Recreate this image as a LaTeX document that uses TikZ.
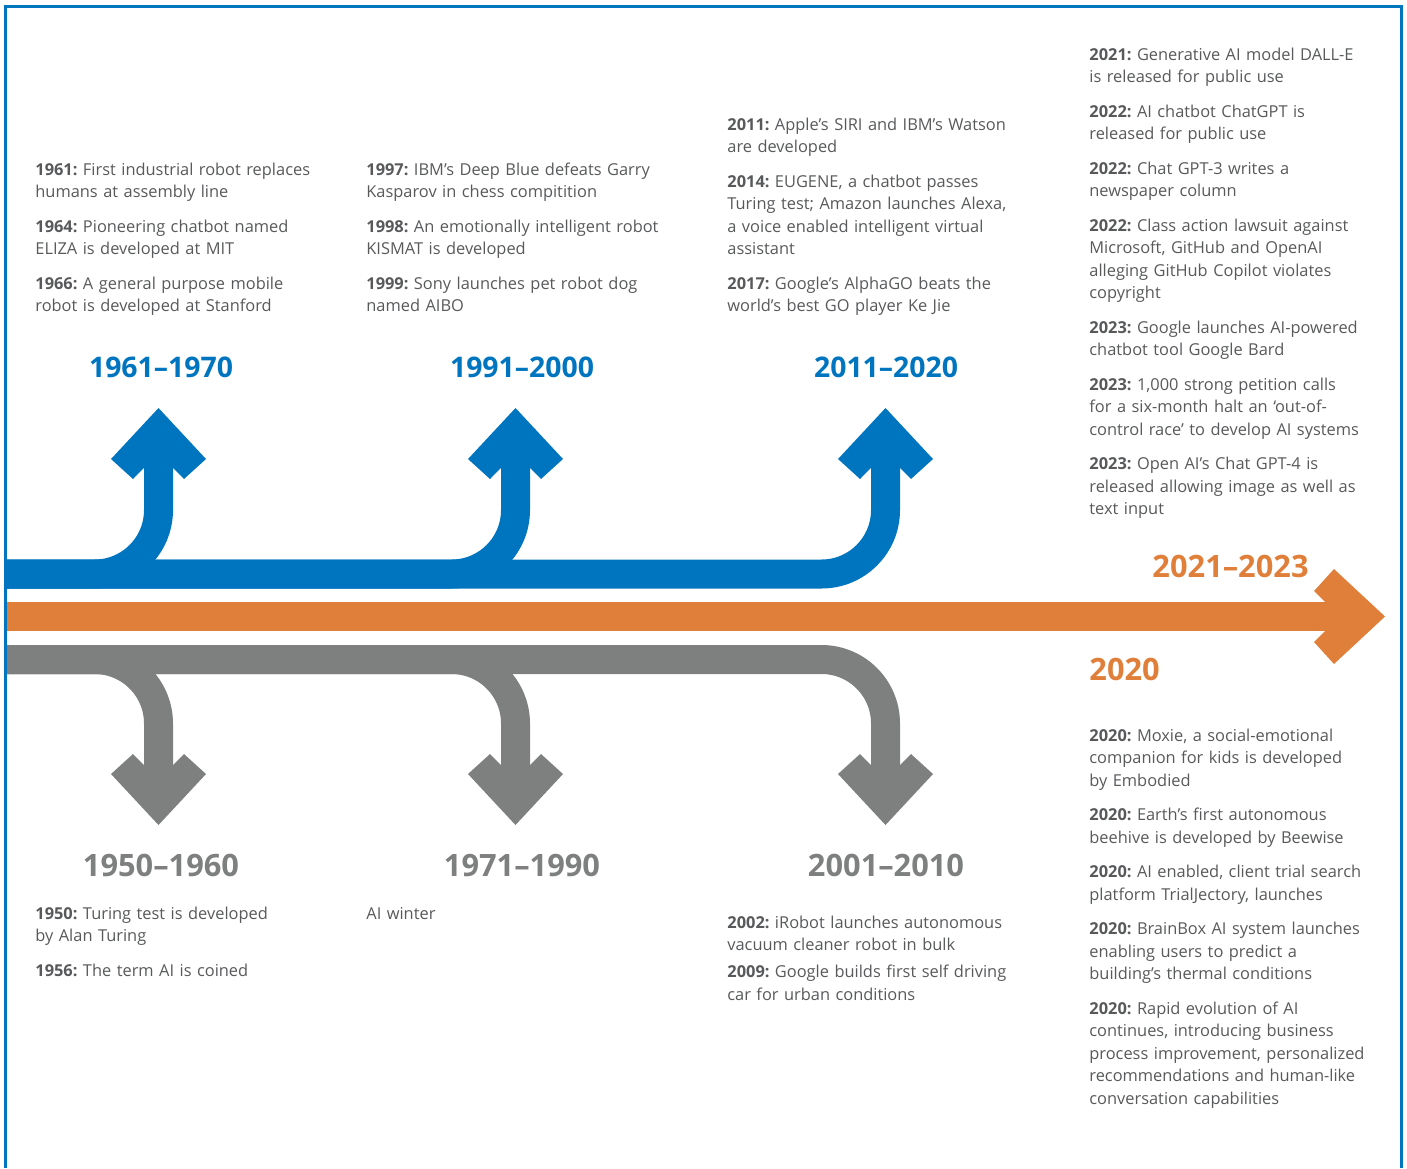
\documentclass[tikz,border=0pt]{standalone}
\usepackage{fontspec}
\setmainfont{Open Sans}
\usepackage{tikz}
\definecolor{aiblue}{HTML}{0075BF}
\definecolor{aiorange}{HTML}{E07F3A}
\definecolor{aigray}{HTML}{7D807E}
\definecolor{aitext}{HTML}{58595B}
\newcommand{\yr}[1]{\textbf{#1:}}
\frenchspacing

\begin{document}
\begin{tikzpicture}[x=0.5pt, y=-0.5pt,
    band/.style={line width=14.5pt, rounded corners=32pt},
    era/.style={font=\fontsize{14.2pt}{16pt}\selectfont\bfseries, inner sep=0pt},
    wide era/.style={era, font=\fontsize{15.4pt}{17pt}\selectfont\bfseries},
    events/.style={anchor=base west, inner sep=0pt, text width=175pt, align=left,
        text=aitext, font=\fontsize{8.2pt}{11.25pt}\selectfont},
    headup/.pic={\fill (0,0) -- (47.5,51) -- (25.5,71) -- (0,45) -- (-25.5,71) -- (-47.5,51) -- cycle;}]
    \useasboundingbox (0,0) rectangle (1407,1168);

    % bands
    \draw[band, aiblue] (5,574) -| (158.5,448);
    \draw[band, aiblue] (5,574) -| (515.5,448);
    \draw[band, aiblue] (5,574) -| (885.5,448);
    \draw[band, aigray] (5,659.5) -| (158.5,785);
    \draw[band, aigray] (5,659.5) -| (515.5,785);
    \draw[band, aigray] (5,659.5) -| (885.5,785);
    \draw[band, aiorange] (5,616.5) -- (1345,616.5);

    % heads
    \pic[aiblue] at (158.5,408) {headup};
    \pic[aiblue] at (515.5,408) {headup};
    \pic[aiblue] at (885.5,408) {headup};
    \pic[aigray, yscale=-1] at (158.5,825) {headup};
    \pic[aigray, yscale=-1] at (515.5,825) {headup};
    \pic[aigray, yscale=-1] at (885.5,825) {headup};
    \pic[aiorange, rotate=-90] at (1385,616.5) {headup};

    \draw[aiblue, line width=1.5pt] (5,1168) -- (5,6.5) -- (1401,6.5) -- (1401,1168);

    % eras
    \node[era, aiblue] (h6170) at (161,367.5) {1961–1970};
    \node[era, aiblue] (h9100) at (522,367.5) {1991–2000};
    \node[era, aiblue] (h1120) at (886,367.5) {2011–2020};
    \node[wide era, aiorange] (h2123) at (1230.5,566.5) {2021–2023};
    \node[wide era, aiorange, anchor=west] (h2020) at (1089,669) {2020};
    \node[wide era, aigray] (h5060) at (161,865) {1950–1960};
    \node[wide era, aigray] (h7190) at (522,865) {1971–1990};
    \node[wide era, aigray] (h0110) at (886,865) {2001–2010};

    % events
    \node[events] (t6170) at (35,175) {\yr{1961} First industrial robot replaces\\ humans at assembly line\\[6pt]
        \yr{1964} Pioneering chatbot named\\ ELIZA is developed at MIT\\[6pt]
        \yr{1966} A general purpose mobile\\ robot is developed at Stanford};
    \node[events] (t9100) at (366,175) {\yr{1997} IBM’s Deep Blue defeats Garry\\ Kasparov in chess compitition\\[6pt]
        \yr{1998} An emotionally intelligent robot\\ KISMAT is developed\\[6pt]
        \yr{1999} Sony launches pet robot dog\\ named AIBO};
    \node[events] (t1120) at (727,130) {\yr{2011} Apple’s SIRI and IBM’s Watson\\ are developed\\[6pt]
        \yr{2014} EUGENE, a chatbot passes\\ Turing test; Amazon launches Alexa,\\ a voice enabled intelligent virtual\\ assistant\\[6pt]
        \yr{2017} Google’s AlphaGO beats the\\ world’s best GO player Ke Jie};
    \node[events] (t2123) at (1089,60) {\yr{2021} Generative AI model DALL-E\\ is released for public use\\[6pt]
        \yr{2022} AI chatbot ChatGPT is\\ released for public use\\[6pt]
        \yr{2022} Chat GPT-3 writes a\\ newspaper column\\[6pt]
        \yr{2022} Class action lawsuit against\\ Microsoft, GitHub and OpenAI\\ alleging GitHub Copilot violates\\ copyright\\[6pt]
        \yr{2023} Google launches AI-powered\\ chatbot tool Google Bard\\[6pt]
        \yr{2023} 1,000 strong petition calls\\ for a six-month halt an ‘out-of-\\ control race’ to develop AI systems\\[6pt]
        \yr{2023} Open AI’s Chat GPT-4 is\\ released allowing image as well as\\ text input};
    \node[events] (t5060) at (35,919) {\yr{1950} Turing test is developed\\ by Alan Turing\\[6pt]
        \yr{1956} The term AI is coined};
    \node[events] (t7190) at (366,919) {AI winter};
    \node[events] (t0110) at (727,928) {\yr{2002} iRobot launches autonomous\\ vacuum cleaner robot in bulk\\[2.3pt]
        \yr{2009} Google builds first self driving\\ car for urban conditions};
    \node[events] (t2020) at (1089,741) {\yr{2020} Moxie, a social-emotional\\ companion for kids is developed\\ by Embodied\\[6pt]
        \yr{2020} Earth’s first autonomous\\ beehive is developed by Beewise\\[6pt]
        \yr{2020} AI enabled, client trial search\\ platform TrialJectory, launches\\[6pt]
        \yr{2020} BrainBox AI system launches\\ enabling users to predict a\\ building’s thermal conditions\\[6pt]
        \yr{2020} Rapid evolution of AI\\ continues, introducing business\\ process improvement, personalized\\ recommendations and human-like\\ conversation capabilities};
\end{tikzpicture}
\end{document}
